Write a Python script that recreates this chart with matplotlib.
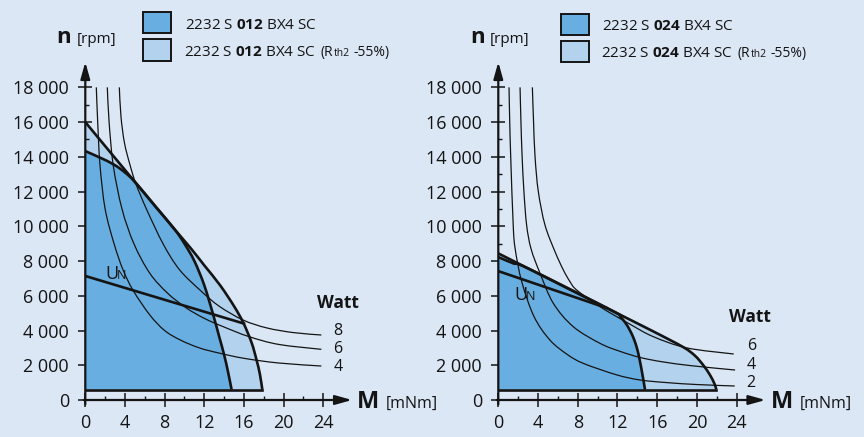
import matplotlib as mpl
import matplotlib.pyplot as plt
from matplotlib.patches import Rectangle, PathPatch
from matplotlib.path import Path
from matplotlib.ticker import FuncFormatter, FixedLocator

mpl.rcParams['font.family'] = ['Open Sans', 'DejaVu Sans']
mpl.rcParams['mathtext.fontset'] = 'custom'
mpl.rcParams['mathtext.rm'] = 'Open Sans'
mpl.rcParams['mathtext.bf'] = 'Open Sans:bold'

BG = '#dbe7f5'
DARK = '#68aee0'
LIGHT = '#b3d2ee'
INK = '#141414'

N_MIN = 600  # lower speed limit of the operating range

# ---- 2232 S 012 BX4 SC ----
light012_M = [0, 4.5, 9.0, 10.6, 12.0, 13.6, 15.0, 15.93, 16.77, 17.27, 17.6, 17.85]
light012_n = [16000, 12900, 9830, 8760, 7750, 6600, 5400, 4450, 3300, 2300, 1500, 600]
dark012_M = [0, 1.5, 2.9, 4.0, 5.0, 7.0, 9.0, 10.0, 11.0, 12.0, 12.9, 13.5, 14.0, 14.4, 14.75]
dark012_n = [14330, 13950, 13550, 13100, 12560, 11195, 9830, 9000, 8000, 6600, 4900, 3650, 2600, 1600, 600]
un012_M = [0, 16.0]
un012_n = [7140, 4400]
watt012_labels = ['8', '6', '4']
watt012_M = [
    [3.43, 3.6, 3.95, 4.5, 5.1, 6.2, 7.87, 9.5, 11.56, 13.5, 15.93, 18.3, 21.0, 23.8],
    [2.22, 2.4, 2.82, 3.7, 4.9, 6.5, 8.3, 10.15, 12.0, 14.0, 16.5, 19.5, 23.8],
    [1.11, 1.25, 1.48, 2.0, 2.9, 3.8, 4.84, 6.5, 8.0, 9.6, 11.5, 13.5, 16.0, 19.5, 23.8],
]
watt012_n = [
    [18000, 16300, 14800, 13550, 12450, 10950, 8963, 7500, 6333, 5400, 4600, 4150, 3880, 3742],
    [18000, 16000, 13500, 11000, 9000, 7300, 6150, 5314, 4700, 4200, 3650, 3200, 2917],
    [18000, 16000, 13529, 11000, 9000, 7500, 6293, 4900, 4000, 3450, 3000, 2700, 2400, 2130, 1957],
]

# ---- 2232 S 024 BX4 SC ----
light024_M = [0, 10.9, 15.6, 18.6, 19.8, 20.64, 21.3, 21.75, 21.95]
light024_n = [8440, 5300, 3950, 3050, 2550, 2000, 1450, 950, 600]
dark024_M = [0, 1.5, 3.0, 11.5, 12.3, 12.93, 13.5, 13.9, 14.2, 14.5, 14.77]
dark024_n = [8230, 7870, 7576, 5130, 4780, 4330, 3720, 3100, 2400, 1500, 600]
un024_M = [0, 10.9]
un024_n = [7420, 5300]
watt024_labels = ['6', '4', '2']
watt024_M = [
    [3.43, 3.55, 3.7, 4.03, 4.7, 5.71, 6.55, 7.22, 7.89, 10.24, 13.3, 15.61, 18.97, 23.7],
    [2.19, 2.28, 2.4, 2.58, 2.85, 3.3, 4.2, 5.54, 7.55, 10.24, 12.26, 14.27, 16.5, 19.5, 23.84],
    [1.08, 1.15, 1.25, 1.5, 1.7, 2.36, 3.6, 5.2, 7.0, 8.6, 11.9, 14.3, 17.0, 20.0, 23.8],
]
watt024_n = [
    [18000, 16000, 14000, 12000, 10075, 8538, 7484, 6811, 6333, 5371, 4350, 3646, 3000, 2648],
    [18000, 16000, 14000, 12000, 10075, 8700, 7300, 5567, 4220, 3262, 2800, 2450, 2200, 1970, 1727],
    [18000, 16000, 14000, 10075, 8700, 6811, 4800, 3450, 2600, 2100, 1450, 1150, 1000, 890, 806],
]

x_ticks = [0, 4, 8, 12, 16, 20, 24]
y_ticks = list(range(0, 18001, 2000))

W, H = 864, 437
fig = plt.figure(figsize=(8.64, 4.37), dpi=100, facecolor=BG)


def fx(px):
    return px / W


def fy(py):
    return 1 - py / H


def smooth(xs, ys):
    # Catmull-Rom through the read points, drawn as cubic Bezier segments
    pts = list(zip(xs, ys))
    verts, codes = [pts[0]], [Path.MOVETO]
    for i in range(len(pts) - 1):
        p0 = pts[max(i - 1, 0)]
        p1, p2 = pts[i], pts[i + 1]
        p3 = pts[min(i + 2, len(pts) - 1)]
        c1 = (p1[0] + (p2[0] - p0[0]) / 6, p1[1] + (p2[1] - p0[1]) / 6)
        c2 = (p2[0] - (p3[0] - p1[0]) / 6, p2[1] - (p3[1] - p1[1]) / 6)
        verts += [c1, c2, p2]
        codes += [Path.CURVE4] * 3
    return verts, codes


def curve(ax, xs, ys, lw, z):
    v, c = smooth(xs, ys)
    ax.add_patch(PathPatch(Path(v, c), fill=False, edgecolor=INK, lw=lw, zorder=z,
                           capstyle='butt'))


def area(ax, xs, ys, color, z):
    v, c = smooth(xs, ys)
    v = v + [(0, N_MIN), (0, N_MIN)]
    c = c + [Path.LINETO, Path.CLOSEPOLY]
    ax.add_patch(PathPatch(Path(v, c), facecolor=color, lw=0, zorder=z))


def panel(x0, px_per_unit, light_M, light_n, dark_M, dark_n, un_M, un_n,
          w_labels, w_M, w_n, watt_xy, label_y, un_xy):
    xmax, ymax = 26.9, 19460
    ax = fig.add_axes([fx(x0), fy(400), xmax * px_per_unit / W, 338 / H])
    ax.set_facecolor('none')
    ax.set_xlim(0, xmax)
    ax.set_ylim(0, ymax)
    for s in ax.spines.values():
        s.set_visible(False)

    area(ax, light_M, light_n, LIGHT, 1)
    area(ax, dark_M, dark_n, DARK, 2)

    for M, n in zip(w_M, w_n):
        curve(ax, M, n, 0.9, 3)

    curve(ax, light_M, light_n, 1.9, 4)
    curve(ax, dark_M, dark_n, 1.9, 4)
    ax.plot([0, light_M[-1]], [N_MIN, N_MIN], color=INK, lw=1.9, zorder=4)
    ax.plot(un_M, un_n, color=INK, lw=1.9, zorder=4)

    arrow = dict(arrowstyle='-|>,head_length=1.0,head_width=0.28', color=INK,
                 lw=1.6, shrinkA=0, shrinkB=0)
    ax.annotate('', xy=(xmax, 0), xytext=(-0.15, 0), arrowprops=arrow,
                annotation_clip=False, zorder=5)
    ax.annotate('', xy=(0, ymax), xytext=(0, -250), arrowprops=arrow,
                annotation_clip=False, zorder=5)

    ax.set_xticks(x_ticks)
    ax.set_yticks(y_ticks)
    ax.xaxis.set_minor_locator(FixedLocator([2, 6, 10, 14, 18, 22]))
    ax.yaxis.set_minor_locator(FixedLocator(list(range(1000, 18000, 2000))))
    ax.yaxis.set_major_formatter(FuncFormatter(lambda v, p: f'{int(v):,}'.replace(',', ' ')))
    ax.tick_params(which='major', direction='inout', length=9.5, width=1.1,
                   labelsize=13, colors=INK, pad=7)
    ax.tick_params(axis='x', which='major', pad=5)
    ax.tick_params(which='minor', direction='in', length=3, width=1.0, colors=INK)

    # Watt labels
    wx, wy = watt_xy
    fig.text(fx(wx), fy(wy), 'Watt', fontsize=12.5, fontweight='bold', color=INK,
             ha='center', va='center')
    lx = x0 + 248 * px_per_unit / 9.92
    for lab, y in zip(w_labels, label_y):
        fig.text(fx(lx), fy(y), lab, fontsize=11.5, color=INK, va='center', ha='left')

    # U_N label
    ux, uy = un_xy
    fig.text(fx(ux), fy(uy), 'U', fontsize=13, color=INK, va='baseline')
    fig.text(fx(ux + 12), fy(uy), 'N', fontsize=9, color=INK, va='baseline')
    return ax


panel(85.3, 9.917, light012_M, light012_n, dark012_M, dark012_n, un012_M, un012_n,
      watt012_labels, watt012_M, watt012_n, (338, 303), [330.7, 349.3, 367.3], (105, 279))
panel(498.3, 9.933, light024_M, light024_n, dark024_M, dark024_n, un024_M, un024_n,
      watt024_labels, watt024_M, watt024_n, (750, 317.5), [345.7, 365, 382.7], (514, 300.5))


def axis_labels(n_x, m_x):
    fig.text(fx(n_x), fy(43), 'n', fontsize=16, fontweight='bold', color=INK, va='baseline')
    fig.text(fx(n_x + 20), fy(43), '[rpm]', fontsize=11, color=INK, va='baseline')
    fig.text(fx(m_x), fy(408), 'M', fontsize=17, fontweight='bold', color=INK, va='baseline')
    fig.text(fx(m_x + 29), fy(408), '[mNm]', fontsize=11.5, color=INK, va='baseline')


axis_labels(56.5, 357)
axis_labels(470, 770.5)

renderer = fig.canvas.get_renderer()


def chain(x, y, pieces):
    # pieces: (text, fontsize, gap in px before the piece)
    for s, size, gap in pieces:
        x += gap
        t = fig.text(fx(x), fy(y), s, fontsize=size, color=INK, va='baseline')
        x += t.get_window_extent(renderer=renderer).width


def legend(box_x, text_x, base1, code):
    main = f'2232 S $\\mathbf{{{code}}}$ BX4 SC'
    for color, top in [(DARK, base1 - 17), (LIGHT, base1 + 10.3)]:
        fig.add_artist(Rectangle((fx(box_x), fy(top + 21.3)), 28 / W, 21.3 / H,
                                 transform=fig.transFigure, facecolor=color,
                                 edgecolor=INK, lw=1.4))
    chain(text_x, base1, [(main, 11, 0)])
    chain(text_x - 1, base1 + 26.7, [(main, 11, 0), ('(R', 10, 4.5), ('th2', 7.5, 0.5),
                                    ('-55%)', 10, 3.5)])


legend(142.7, 185, 29, '012')
legend(561.3, 602, 30.5, '024')

fig.savefig('out.png', dpi=100, facecolor=BG)
